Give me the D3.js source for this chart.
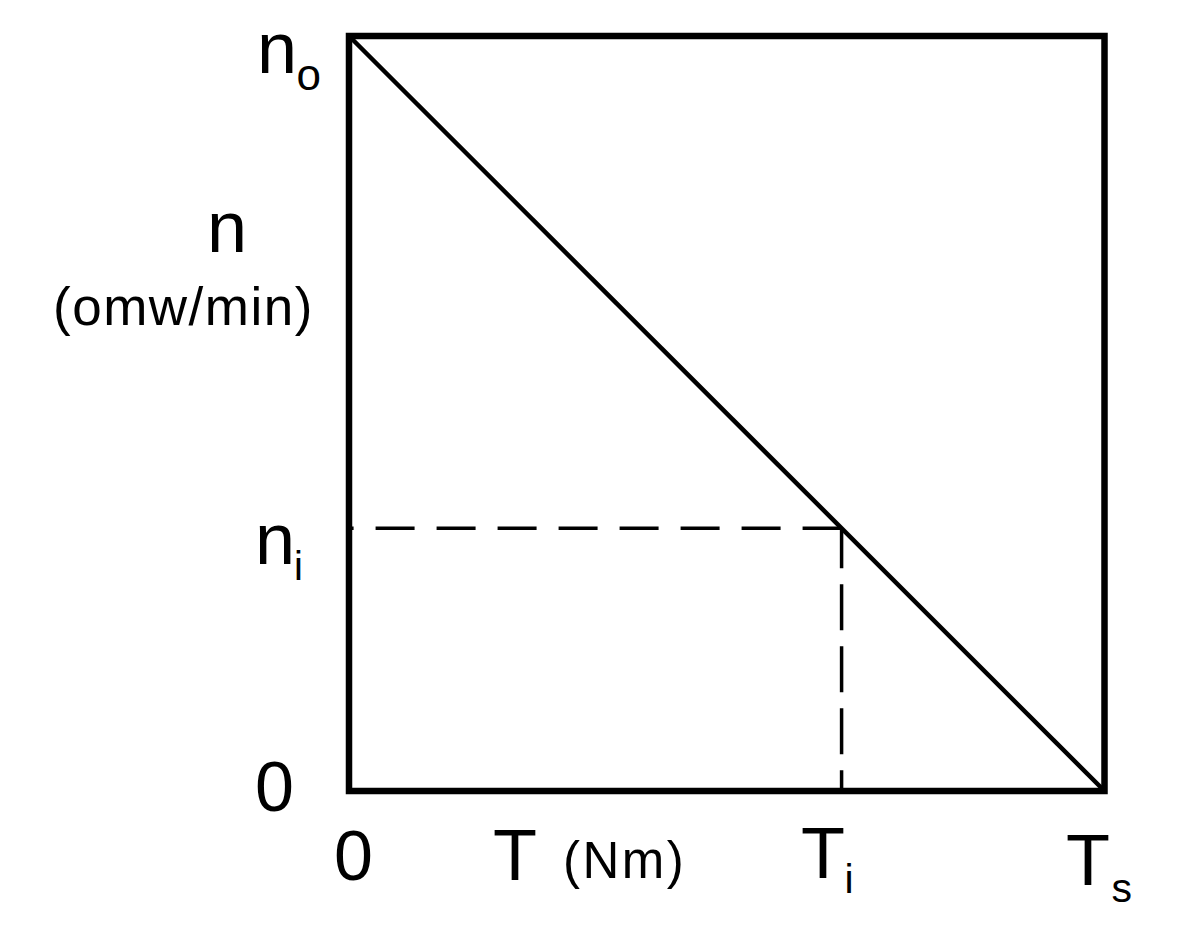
<!DOCTYPE html>
<html>
<head>
<meta charset="utf-8">
<script src="https://cdn.jsdelivr.net/npm/d3@7"></script>
<style>
  html, body { margin: 0; padding: 0; background: #fff; }
  svg { display: block; }
  text { font-family: "Liberation Sans", Arial, sans-serif; fill: #000; }
</style>
</head>
<body>
<svg id="chart" width="1178" height="938"></svg>
<script>
// ---- data (normalised: T / Ts, n / n0) ----
const torqueLine = [0, 1];        // T from 0 to Ts
const speedLine  = [1, 0];        // n from n0 to 0
const operatingT = [0.652];       // Ti
const operatingN = [0.348];       // ni
const xTickLabels = [
  { v: 0,     main: "0", sub: "" },
  { v: 0.652, main: "T", sub: "i" },
  { v: 1,     main: "T", sub: "s" }
];
const yTickLabels = [
  { v: 1,     main: "n", sub: "o" },
  { v: 0.348, main: "n", sub: "i" },
  { v: 0,     main: "0", sub: "" }
];
const xTitle = ["T", "(Nm)"];
const yTitle = ["n", "(omw/min)"];

// ---- scales ----
const x = d3.scaleLinear().domain([0, 1]).range([349, 1104.5]);
const y = d3.scaleLinear().domain([0, 1]).range([791, 36]);

const svg = d3.select("#chart");

// frame
svg.append("rect")
  .attr("x", x(0)).attr("y", y(1))
  .attr("width", x(1) - x(0)).attr("height", y(0) - y(1))
  .attr("fill", "none").attr("stroke", "#000").attr("stroke-width", 6.5);

// dashed guide lines
const Ti = operatingT[0], ni = operatingN[0];
svg.append("line")
  .attr("x1", x(Ti)).attr("y1", y(ni)).attr("x2", x(0)).attr("y2", y(ni))
  .attr("stroke", "#000").attr("stroke-width", 3.5)
  .attr("stroke-dasharray", "39,22");
svg.append("line")
  .attr("x1", x(Ti)).attr("y1", y(ni)).attr("x2", x(Ti)).attr("y2", y(0))
  .attr("stroke", "#000").attr("stroke-width", 3.5)
  .attr("stroke-dasharray", "46,16").attr("stroke-dashoffset", 6);

// characteristic line
const pts = torqueLine.map((t, i) => [t, speedLine[i]]);
svg.append("path")
  .datum(pts)
  .attr("d", d3.line().x(d => x(d[0])).y(d => y(d[1])))
  .attr("fill", "none").attr("stroke", "#000").attr("stroke-width", 4.5);

// helper for label with subscript
function label(xm, ym, main, size, sub, xs, ys, subSize) {
  const t = svg.append("text");
  t.append("tspan").attr("x", xm).attr("y", ym).attr("font-size", size).text(main);
  if (sub) t.append("tspan").attr("x", xs).attr("y", ys).attr("font-size", subSize).text(sub);
  return t;
}

// y tick labels
const yl = {
  "1":     { xm: 257, dy: 37, xs: 296.5, dys: 54 },
  "0.348": { xm: 255, dy: 36, xs: 294,   dys: 52 },
  "0":     { xm: 255, dy: 20, xs: 0,     dys: 0 }
};
yTickLabels.forEach(d => {
  const p = yl[String(d.v)];
  label(p.xm, y(d.v) + p.dy, d.main, d.main === "0" ? 70 : 72,
        d.sub, p.xs, y(d.v) + p.dys, d.sub === "o" ? 44 : 40);
});

// x tick labels
const xl = {
  "0":     { dx: -15,  ym: 880, dxs: 0,  ys: 0 },
  "0.652": { dx: -40.5, ym: 878, dxs: 3, ys: 893 },
  "1":     { dx: -38.5, ym: 885, dxs: 7, ys: 902 }
};
xTickLabels.forEach(d => {
  const p = xl[String(d.v)];
  label(x(d.v) + p.dx, p.ym, d.main, d.main === "0" ? 70 : 72,
        d.sub, x(d.v) + p.dxs, p.ys, 41);
});

// axis titles
svg.append("text").attr("x", 493).attr("y", 880).attr("font-size", 72).text(xTitle[0]);
svg.append("text").attr("x", 563).attr("y", 878).attr("font-size", 51)
  .attr("letter-spacing", 2.5).text(xTitle[1]);
svg.append("text").attr("x", 207).attr("y", 252).attr("font-size", 72).text(yTitle[0]);
svg.append("text").attr("x", 53).attr("y", 325).attr("font-size", 53)
  .attr("letter-spacing", 1.5).text(yTitle[1]);
</script>
</body>
</html>
